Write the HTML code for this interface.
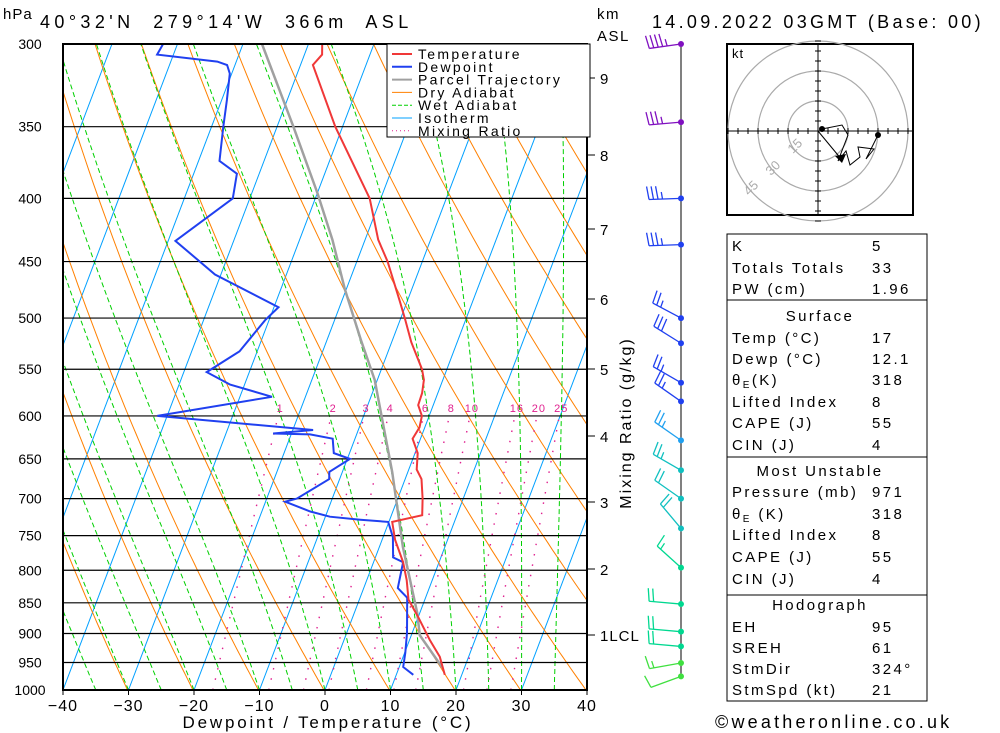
<!DOCTYPE html>
<html><head><meta charset="utf-8"><style>
html,body{margin:0;padding:0;background:#fff}
svg{display:block;font-family:"Liberation Sans",sans-serif}
</style></head><body>
<svg id="chart" width="1000" height="733" viewBox="0 0 1000 733" xmlns="http://www.w3.org/2000/svg">
<rect width="1000" height="733" fill="#fff"/>
<defs><clipPath id="pc"><rect x="63" y="44" width="524" height="646"/></clipPath></defs>
<g id="bg" clip-path="url(#pc)"></g>
<g id="fg"></g>
</svg>
<script>
// ---- data ----
const isobars=[300,350,400,450,500,550,600,650,700,750,800,850,900,950,1000];
const tempTicks=[-40,-30,-20,-10,0,10,20,30,40];
const mixRatios=[1,2,3,4,6,8,10,16,20,25];
const tempP=[300,306,312,350,400,432,450,484,500,523,550,561,575,588,600,613,626,643,663,675,700,722,731,756,788,815,845,873,911,940,972];
const tempC=[-37.9,-37.3,-38.1,-31.1,-21.7,-18.0,-15.3,-11.2,-9.4,-7.0,-3.8,-2.9,-2.4,-2.3,-1.1,-0.8,-1.2,0.4,1.2,2.5,3.8,4.7,0.5,2.0,4.5,6.1,7.5,10.0,13.1,15.6,17.4];
const dewP=[300,306,310,312,317,333,350,373,382,400,433,461,490,502,532,553,566,579,600,616,620,621,626,643,650,666,675,700,704,717,724,728,731,752,781,788,827,842,899,933,958,972];
const dewC=[-62.2,-62.5,-52.9,-51.2,-50.3,-49.2,-48.2,-46.8,-43.4,-42.6,-48.9,-40.9,-29.3,-30.6,-32.7,-36.5,-32.2,-25.1,-41.5,-16.9,-22.8,-17.1,-13.4,-12.4,-9.6,-12.0,-11.6,-15.4,-17.0,-12.6,-9.3,-4.5,-0.1,1.5,2.7,4.5,5.2,7.2,9.2,10.1,10.6,12.6];
const parcelP=[300,350,396,432,474,522,561,666,766,866,903,959];
const parcelC=[-47.1,-37.5,-30.0,-25.0,-20.2,-14.7,-10.4,-2.4,3.6,9.6,11.3,16.6];
const windP=[300,347,400,436,500,524,564,584,628,664,700,740,796,852,897,922,951,975];
const windDir=[262,265,268,268,298,302,300,305,305,300,305,320,312,275,275,275,260,250];
const windSpd=[45,35,35,35,25,30,25,25,25,25,20,20,15,20,20,20,15,10];
const km=["9","8","7","6","5","4","3","2","1LCL"];
const kmY=[78,155,229,299,369,436,502,569,635];
const hodoU=[2,12,15,10,14,16,21,20,28,24,30];
const hodoV=[1,3,-2,-15,-10,-17,-13,-8,-9,-14,-2];
// ---- axes ----
const NS='http://www.w3.org/2000/svg';
const X0=63,X1=587,Y0=44,Y1=690,PX=6.55,SK=0.38;
function yP(p){return Y0+Math.log(p/300)/Math.log(1000/300)*(Y1-Y0);}
function xT(t,p){return X0+(t+40)*PX+SK*(Y1-yP(p));}
const bg=document.getElementById('bg'),fg=document.getElementById('fg');
function el(tag,attrs,parent,txt){const e=document.createElementNS(NS,tag);for(const k in attrs)e.setAttribute(k,attrs[k]);if(txt!==undefined)e.textContent=txt;(parent||fg).appendChild(e);return e;}
function pts(ps,ts){return ps.map((p,i)=>xT(ts[i],p).toFixed(1)+','+yP(p).toFixed(1)).join(' ');}
for(let t=-120;t<=40;t+=10){const l=el('line',{x1:xT(t,1000),y1:Y1,x2:xT(t,300),y2:Y0,stroke:'#00a0ff','stroke-width':1},bg);

}
for(let th=213;th<=493;th+=10){const ps=[],ts=[];for(let p=1000;p>=300;p-=10){ps.push(p);ts.push(th*Math.pow(p/1000,0.286)-273.15);}
const l=el('polyline',{points:pts(ps,ts),fill:'none',stroke:'#ff8000','stroke-width':1},bg);

}
function es(t){return 6.112*Math.exp(17.67*t/(t+243.5));}
for(let t0=-40;t0<=40;t0+=5){let T=t0+273.15;const ps=[1000],ts=[t0];let lp=Math.log(1000);
for(let i=0;i<140;i++){const p=Math.exp(lp);const e=es(T-273.15);const rs=0.622*e/(p-e);
const d=(287*T+2.5e6*rs)/(1004+2.5e6*2.5e6*rs*0.622/(287*T*T));const dl=Math.log(300/1000)/140;T+=d*dl;lp+=dl;ps.push(Math.exp(lp));ts.push(T-273.15);}
const l=el('polyline',{points:pts(ps,ts),fill:'none',stroke:'#00d000','stroke-width':1,'stroke-dasharray':'5,3'},bg);

}
function tw(w,p){const e=w*p/(622+w);const a=Math.log(e/6.112);return 243.5*a/(17.67-a);}
mixRatios.forEach(w=>{const ps=[],ts=[];for(let p=1000;p>=600;p-=10){ps.push(p);ts.push(tw(w,p));}
const l=el('polyline',{points:pts(ps,ts),fill:'none',stroke:'#e0208f','stroke-width':1.4,'stroke-dasharray':'1.5,9'},bg);


const t=el('text',{x:xT(tw(w,600),600)+2,y:yP(600)-4,'font-size':11,fill:'#e0208f','text-anchor':'middle','letter-spacing':1},fg,String(w));

});
isobars.forEach(p=>{const l=el('line',{x1:X0,x2:X1,y1:yP(p),y2:yP(p),stroke:'#000','stroke-width':1.2},fg);


const t=el('text',{x:30,y:yP(p)+5,'font-size':14,'text-anchor':'middle',fill:'#000'},fg,String(p));

});
tempTicks.forEach(t=>{const x=X0+(t+40)*PX;el('line',{x1:x,x2:x,y1:Y1,y2:Y1+5,stroke:'#000'});
const tx=el('text',{x:x,y:711,'font-size':16,'text-anchor':'middle',fill:'#000','letter-spacing':1},fg,(t<0?'\u2212':'')+Math.abs(t));

});
const gp=el('polyline',{points:pts(parcelP,parcelC),fill:'none',stroke:'#a0a0a0','stroke-width':2.5});


const gd=el('polyline',{points:pts(dewP,dewC),fill:'none',stroke:'#2040f0','stroke-width':2});


const gt=el('polyline',{points:pts(tempP,tempC),fill:'none',stroke:'#f03838','stroke-width':2});


const fr=el('rect',{x:X0,y:Y0,width:X1-X0,height:Y1-Y0,fill:'none',stroke:'#000','stroke-width':2});


km.forEach((k,i)=>{el('line',{x1:X1,x2:595,y1:kmY[i],y2:kmY[i],stroke:'#000'});
const t=el('text',{x:600,y:kmY[i]+6,'font-size':15,fill:'#000','letter-spacing':1},fg,k);

});
el('line',{x1:681,x2:681,y1:44,y2:yP(975),stroke:'#000','stroke-width':1});
function wcol(p){if(p<380)return'#8010c0';if(p<=590)return'#2040f0';if(p<=640)return'#20a0f0';if(p<=760)return'#10c0c0';if(p<=930)return'#00d890';return'#40e040';}
windP.forEach((p,i)=>{const y=yP(p),x=681,c=wcol(p),d=windDir[i]*Math.PI/180;const ux=Math.sin(d),uy=-Math.cos(d);const L=32;
const g=el('g',{});


el('line',{x1:x,y1:y,x2:x+ux*L,y2:y+uy*L,stroke:c,'stroke-width':1.3},g);
let s=windSpd[i],pos=L;const fx=-uy,fy=ux;
while(s>=10){el('line',{x1:x+ux*pos,y1:y+uy*pos,x2:x+ux*pos+fx*13+ux*2,y2:y+uy*pos+fy*13+uy*2,stroke:c,'stroke-width':1.3},g);pos-=4.5;s-=10;}
if(s>=5){el('line',{x1:x+ux*pos,y1:y+uy*pos,x2:x+ux*pos+fx*7+ux*1,y2:y+uy*pos+fy*7+uy*1,stroke:c,'stroke-width':1.3},g);}
el('circle',{cx:x,cy:y,r:3,fill:c},g);});
const HX=818,HY=131,HS=2;
const hg=el('g',{});
el('rect',{x:727,y:44,width:186,height:171,fill:'#fff',stroke:'#000','stroke-width':2},hg);
[15,30,45].forEach(r=>el('circle',{cx:HX,cy:HY,r:r*HS,fill:'none',stroke:'#aaa','stroke-width':1.2},hg));
el('line',{x1:727,x2:913,y1:HY,y2:HY,stroke:'#000'},hg);el('line',{x1:HX,x2:HX,y1:44,y2:215,stroke:'#000'},hg);
for(let k=-45;k<=45;k+=5){el('line',{x1:HX+k*HS,x2:HX+k*HS,y1:HY-3,y2:HY+3,stroke:'#000'},hg);el('line',{y1:HY+k*HS,y2:HY+k*HS,x1:HX-3,x2:HX+3,stroke:'#000'},hg);}
[['15',-10,9],['30',-21,20],['45',-32,30]].forEach(a=>el('text',{x:HX+a[1]*HS,y:HY+a[2]*HS,'font-size':13,fill:'#aaa','text-anchor':'middle',transform:`rotate(-45 ${HX+a[1]*HS} ${HY+a[2]*HS})`},hg,a[0]));
el('text',{x:732,y:58,'font-size':13,fill:'#000','letter-spacing':1},hg,'kt');
el('polyline',{points:hodoU.map((u,i)=>(HX+u*HS)+','+(HY-hodoV[i]*HS)).join(' '),fill:'none',stroke:'#000','stroke-width':1},hg);
el('circle',{cx:HX+hodoU[0]*HS,cy:HY-hodoV[0]*HS,r:3,fill:'#000'},hg);
el('circle',{cx:HX+hodoU[hodoU.length-1]*HS,cy:HY-hodoV[hodoV.length-1]*HS,r:3,fill:'#000'},hg);
el('line',{x1:HX,y1:HY,x2:842,y2:160,stroke:'#000'},hg);el('polygon',{points:'842,163 835,156 846,154',fill:'#000'},hg);
const lg=el('g',{});
el('rect',{x:387,y:44,width:203,height:93,fill:'#fff',stroke:'#000','stroke-width':1},lg);
[['Temperature','#f03838',''],['Dewpoint','#2040f0',''],['Parcel Trajectory','#a0a0a0',''],['Dry Adiabat','#ff8000',''],['Wet Adiabat','#00d000','4,2'],['Isotherm','#00a0ff',''],['Mixing Ratio','#e0208f','1,3']].forEach((e,i)=>{const y=54+i*12.8;
const g=el('g',{},lg);
el('line',{x1:392,x2:412,y1:y,y2:y,stroke:e[1],'stroke-width':e[0].match(/Temp|Dew|Parcel/)?2:1,'stroke-dasharray':e[2]},g);
el('text',{x:418,y:y+5,'font-size':14,fill:'#000','letter-spacing':2.3},g,e[0]);});
</script>
<svg width="1000" height="733" style="position:absolute;left:0;top:0" xmlns="http://www.w3.org/2000/svg" font-family="Liberation Sans, sans-serif">
<text x="3" y="19" font-size="15" letter-spacing="1">hPa</text>
<text x="40" y="28" font-size="18" letter-spacing="4.4" xml:space="preserve">40°32'N  279°14'W  366m  ASL</text>
<text x="597" y="19" font-size="15" letter-spacing="1.5">km</text>
<text x="597" y="41" font-size="15" letter-spacing="1.5">ASL</text>
<text x="652" y="28" font-size="18" letter-spacing="3.3">14.09.2022 03GMT (Base: 00)</text>
<text x="328" y="728" font-size="17" letter-spacing="2.8" text-anchor="middle">Dewpoint / Temperature (°C)</text>
<text transform="translate(631,423) rotate(-90)" font-size="16" letter-spacing="2" text-anchor="middle">Mixing Ratio (g/kg)</text>
<text x="715" y="728" font-size="18" letter-spacing="3.2">©weatheronline.co.uk</text>
<g font-size="15" fill="#000" letter-spacing="2.4">
<rect x="727" y="234" width="200" height="66" fill="none" stroke="#000"/>
<rect x="727" y="300" width="200" height="157" fill="none" stroke="#000"/>
<rect x="727" y="457" width="200" height="138" fill="none" stroke="#000"/>
<rect x="727" y="595" width="200" height="106" fill="none" stroke="#000"/>
<text x="732" y="251">K</text><text x="872" y="251">5</text>
<text x="732" y="273">Totals Totals</text><text x="872" y="273">33</text>
<text x="732" y="294">PW (cm)</text><text x="872" y="294">1.96</text>
<text x="820" y="321" text-anchor="middle">Surface</text>
<text x="732" y="343">Temp (°C)</text><text x="872" y="343">17</text>
<text x="732" y="364">Dewp (°C)</text><text x="872" y="364">12.1</text>
<text x="732" y="385">θ<tspan font-size="10" dy="3">E</tspan><tspan dy="-3">(K)</tspan></text><text x="872" y="385">318</text>
<text x="732" y="407">Lifted Index</text><text x="872" y="407">8</text>
<text x="732" y="428">CAPE (J)</text><text x="872" y="428">55</text>
<text x="732" y="450">CIN (J)</text><text x="872" y="450">4</text>
<text x="820" y="476" text-anchor="middle">Most Unstable</text>
<text x="732" y="497">Pressure (mb)</text><text x="872" y="497">971</text>
<text x="732" y="519">θ<tspan font-size="10" dy="3">E</tspan><tspan dy="-3"> (K)</tspan></text><text x="872" y="519">318</text>
<text x="732" y="540">Lifted Index</text><text x="872" y="540">8</text>
<text x="732" y="562">CAPE (J)</text><text x="872" y="562">55</text>
<text x="732" y="584">CIN (J)</text><text x="872" y="584">4</text>
<text x="820" y="610" text-anchor="middle">Hodograph</text>
<text x="732" y="632">EH</text><text x="872" y="632">95</text>
<text x="732" y="653">SREH</text><text x="872" y="653">61</text>
<text x="732" y="674">StmDir</text><text x="872" y="674">324°</text>
<text x="732" y="695">StmSpd (kt)</text><text x="872" y="695">21</text>
</g>
</svg>
</body></html>
